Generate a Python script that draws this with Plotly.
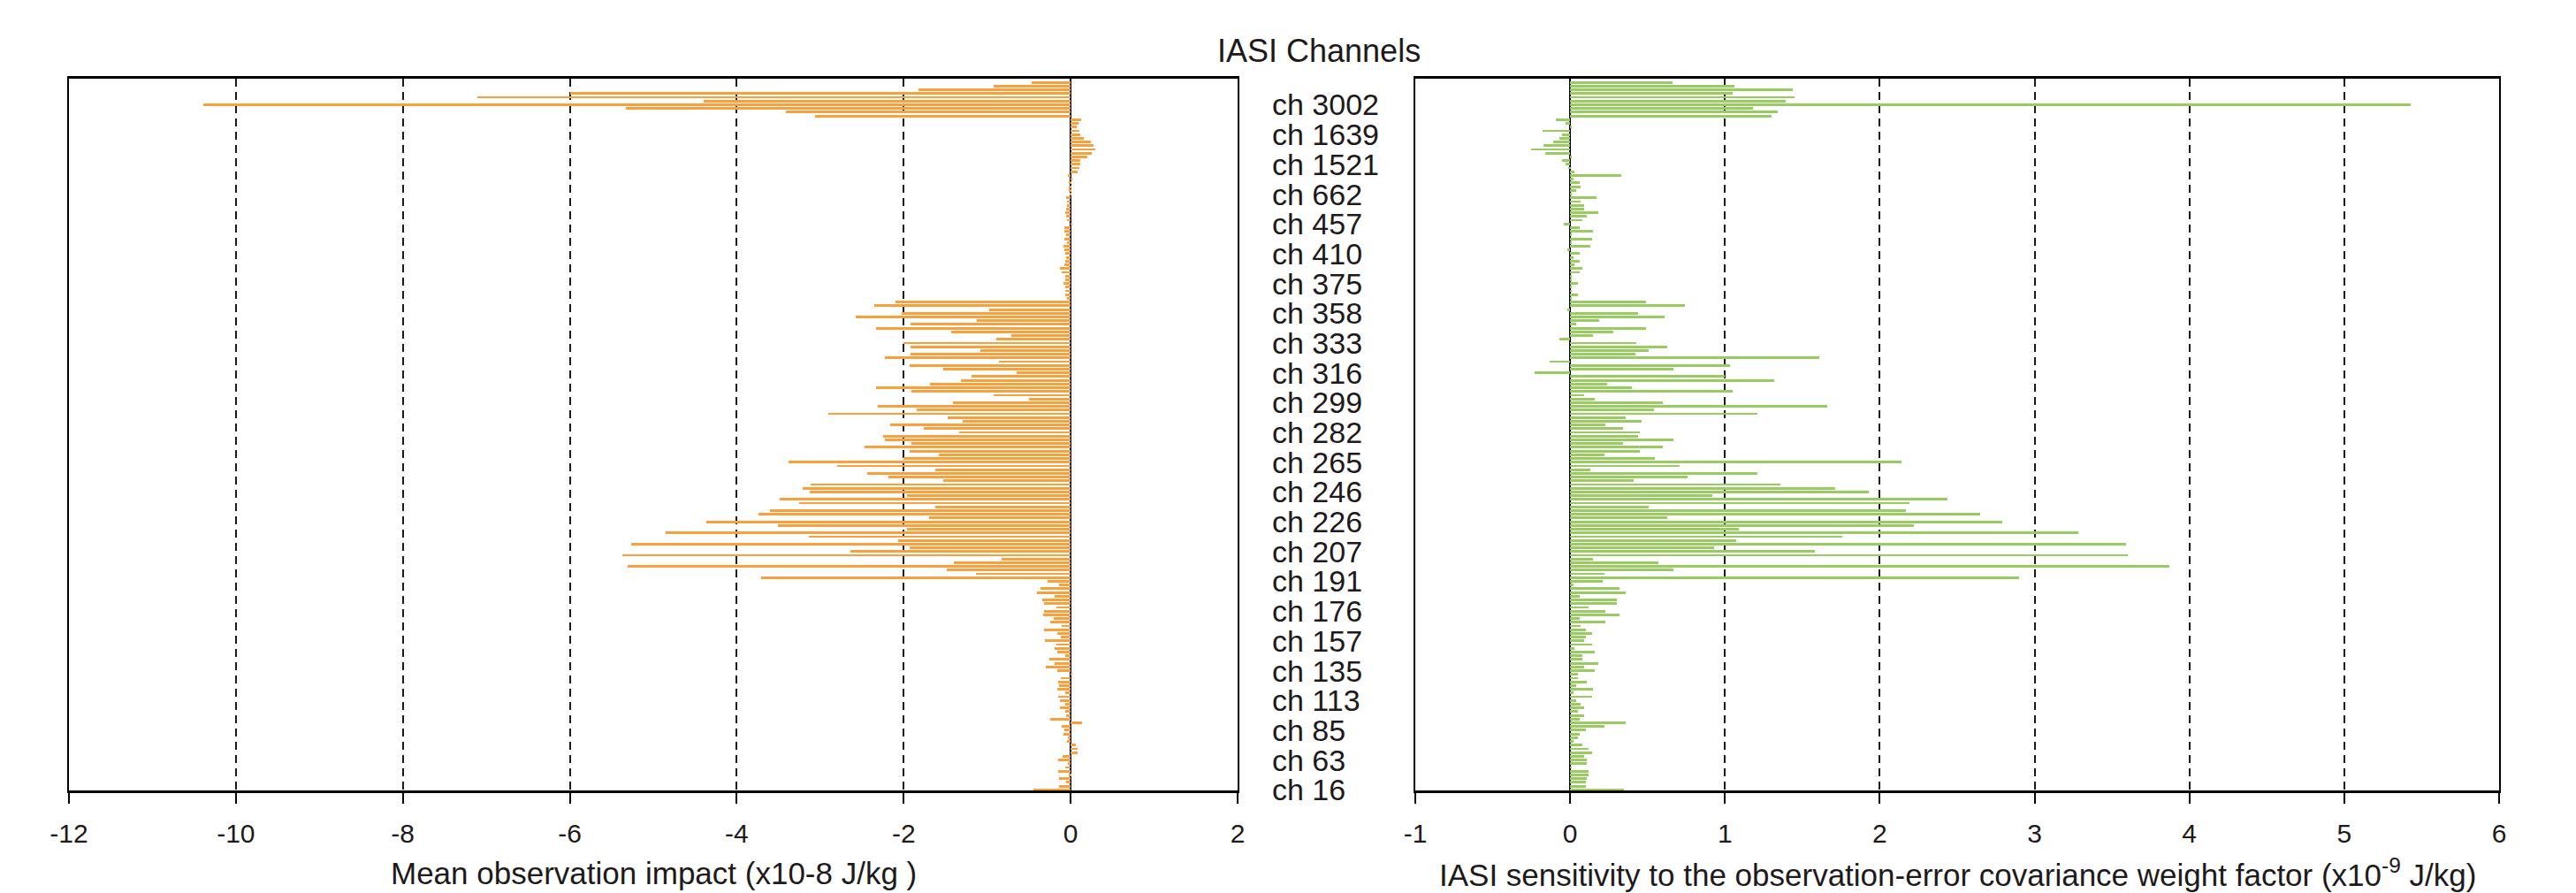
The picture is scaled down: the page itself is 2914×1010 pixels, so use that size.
import plotly.graph_objects as go

# Bar values listed from the top row of the chart (just above ch 3002) down to the bottom row (ch 16)
impact = [
    -0.47, -0.92, -1.82, -6.00, -7.11, -4.40, -10.39, -5.33, -3.41, -3.06,
    0.13, 0.09, 0.07, 0.10, 0.12, 0.16, 0.24, 0.27, 0.30, 0.25,
    0.20, 0.11, 0.11, 0.10, 0.08, -0.03, 0.02, -0.02, -0.02, -0.02,
    -0.01, -0.05, -0.04, -0.04, -0.05, -0.06, -0.05, -0.04, 0.02, -0.08,
    -0.08, -0.05, -0.08, -0.04, -0.09, -0.08, -0.06, -0.05, -0.06, -0.08,
    -0.13, -0.11, -0.06, -0.07, -0.09, -0.06, -0.06, -0.07, -0.04, -2.10,
    -2.35, -0.98, -2.02, -2.57, -1.12, -1.92, -2.33, -1.43, -0.71, -0.89,
    -2.00, -1.92, -1.08, -1.92, -2.23, -0.86, -1.93, -1.53, -0.65, -1.19,
    -1.31, -1.69, -2.33, -1.91, -0.92, -0.50, -1.41, -2.31, -1.84, -2.90,
    -1.47, -1.29, -2.16, -1.76, -1.34, -2.25, -2.23, -1.91, -2.47, -1.93,
    -1.58, -2.00, -3.38, -2.80, -1.62, -2.44, -2.18, -1.53, -3.12, -3.21,
    -3.13, -1.96, -3.49, -3.25, -1.62, -3.60, -3.74, -1.70, -4.36, -3.51,
    -1.96, -4.85, -3.14, -2.07, -5.27, -1.93, -2.64, -5.37, -0.83, -1.40,
    -5.31, -1.48, -1.13, -3.71, -0.28, -0.14, -0.36, -0.40, -0.19, -0.34,
    -0.32, -0.17, -0.32, -0.33, -0.20, -0.24, -0.11, -0.32, -0.16, -0.12,
    -0.31, -0.17, -0.19, -0.16, -0.07, -0.26, -0.19, -0.30, -0.16, 0.02,
    -0.12, -0.15, -0.14, -0.16, -0.07, -0.15, -0.13, -0.06, -0.13, -0.07,
    -0.05, -0.24, 0.14, -0.11, -0.08, -0.09, -0.03, -0.04, 0.06, 0.08,
    0.08, -0.10, -0.15, -0.03, -0.06, -0.15, -0.02, -0.14, -0.05, -0.14,
    -0.45,
]

sensitivity = [
    0.66, 1.06, 1.44, 1.05, 1.45, 1.39, 5.43, 1.18, 1.34, 1.30,
    -0.09, -0.03, 0.01, -0.18, -0.05, -0.07, -0.11, -0.17, -0.25, -0.16,
    0.01, -0.05, -0.03, -0.01, 0.03, 0.33, 0.02, 0.06, 0.07, 0.04,
    0.01, 0.17, 0.07, 0.09, 0.09, 0.18, 0.11, 0.08, -0.04, 0.06,
    0.15, 0.01, 0.14, 0.01, 0.13, -0.02, 0.06, 0.02, 0.06, 0.03,
    0.08, 0.06, 0.01, 0.01, 0.05, 0.01, 0.01, 0.05, 0.01, 0.49,
    0.74, -0.02, 0.44, 0.61, 0.19, 0.04, 0.49, 0.28, 0.15, -0.07,
    0.43, 0.63, 0.51, 0.42, 1.61, -0.13, 1.03, 0.67, -0.23, 1.00,
    1.32, 0.24, 0.40, 1.05, 0.09, 0.16, 0.60, 1.66, 0.54, 1.21,
    0.36, 0.46, 0.23, 0.34, 0.45, 0.44, 0.67, 0.34, 0.60, 0.45,
    0.22, 0.55, 2.14, 0.71, 0.13, 1.21, 0.76, 0.41, 1.36, 1.71,
    1.93, 0.92, 2.44, 2.19, 0.51, 2.17, 2.65, 0.63, 2.79, 2.22,
    1.09, 3.28, 1.76, 1.07, 3.59, 0.93, 1.58, 3.60, 0.15, 0.57,
    3.87, 0.67, 0.22, 2.90, 0.21, 0.02, 0.32, 0.36, 0.06, 0.30,
    0.30, 0.12, 0.23, 0.32, 0.06, 0.23, 0.07, 0.10, 0.14, 0.10,
    0.09, 0.14, 0.03, 0.16, 0.08, 0.08, 0.18, 0.09, 0.16, 0.05,
    0.05, 0.11, 0.04, 0.15, 0.02, 0.14, 0.04, 0.07, 0.09, 0.05,
    0.09, 0.06, 0.36, 0.22, 0.10, 0.06, 0.05, 0.02, 0.08, 0.12,
    0.14, 0.09, 0.11, 0.11, 0.01, 0.12, 0.12, 0.11, 0.10, 0.10,
    0.35,
]

# Channel labels, bottom to top; one label every 8 rows starting at the bottom row
channel_labels = [
    "ch 16", "ch 63", "ch 85", "ch 113", "ch 135", "ch 157", "ch 176", "ch 191",
    "ch 207", "ch 226", "ch 246", "ch 265", "ch 282", "ch 299", "ch 316", "ch 333",
    "ch 358", "ch 375", "ch 410", "ch 457", "ch 662", "ch 1521", "ch 1639", "ch 3002",
]
label_step = 8

left_ticks = [-12, -10, -8, -6, -4, -2, 0, 2]
left_ticktext = ["-12", "-10", "-8", "-6", "-4", "-2", "0", "2"]
right_ticks = [-1, 0, 1, 2, 3, 4, 5, 6]
right_ticktext = ["-1", "0", "1", "2", "3", "4", "5", "6"]

title_text = "IASI Channels"
left_xtitle = "Mean observation impact (x10-8 J/kg )"
right_xtitle = "IASI sensitivity to the observation-error covariance weight factor (x10<sup>-9</sup> J/kg)"

N = len(impact)
rows = [N - 1 - k for k in range(N)]  # top row has the highest position

FONT = "Liberation Sans, Arial, sans-serif"
TXT = "#1e1a1b"
ORANGE = "#F9A03C"
GREEN = "#98CC60"

fig = go.Figure()
fig.add_trace(go.Bar(x=impact, y=rows, orientation="h", width=0.68,
                     marker=dict(color=ORANGE, line=dict(width=0)),
                     xaxis="x", yaxis="y", showlegend=False))
fig.add_trace(go.Bar(x=sensitivity, y=rows, orientation="h", width=0.68,
                     marker=dict(color=GREEN, line=dict(width=0)),
                     xaxis="x2", yaxis="y2", showlegend=False))

W, H = 2914, 1010
ml, mr, mt, mb = 78, 87, 89, 116
pw = W - ml - mr
ph = H - mt - mb
d1 = (1400 - ml) / pw
d2 = (1601 - ml) / pw

xcommon = dict(
    ticks="outside", ticklen=12, tickwidth=2, tickcolor="black",
    showgrid=True, gridcolor="#1a1a1a", gridwidth=1.6, griddash="9px,6px",
    zeroline=True, zerolinecolor="black", zerolinewidth=1.6,
    showline=True, mirror=True, linecolor="black", linewidth=3,
    tickfont=dict(family=FONT, size=30, color=TXT),
    ticklabelstandoff=8,
)
ycommon = dict(
    range=[-0.17, 191.0], showticklabels=False, ticks="", showgrid=False,
    zeroline=False, showline=True, mirror=True, linecolor="black", linewidth=2,
)

annotations = []
for j, lab in enumerate(channel_labels):
    annotations.append(dict(
        text=lab, xref="paper", yref="y", x=(1438 - ml) / pw, y=j * label_step,
        xanchor="left", yanchor="middle", showarrow=False, borderpad=0,
        font=dict(family=FONT, size=34, color=TXT),
    ))
annotations.append(dict(
    text=title_text, xref="paper", yref="paper", x=(1492 - ml) / pw, y=1 + (mt - 57) / ph,
    xanchor="center", yanchor="middle", showarrow=False,
    font=dict(family=FONT, size=36, color=TXT),
))
annotations.append(dict(
    text=left_xtitle, xref="paper", yref="paper", x=d1 / 2, y=-(987 - (H - mb)) / ph,
    xanchor="center", yanchor="middle", showarrow=False,
    font=dict(family=FONT, size=35, color=TXT),
))
annotations.append(dict(
    text=right_xtitle, xref="paper", yref="paper", x=(d2 + 1) / 2, y=-(987 - (H - mb)) / ph,
    xanchor="center", yanchor="middle", showarrow=False,
    font=dict(family=FONT, size=35, color=TXT),
))

fig.update_layout(
    width=W, height=H,
    margin=dict(l=ml, r=mr, t=mt, b=mb),
    paper_bgcolor="white", plot_bgcolor="white",
    bargap=0,
    xaxis=dict(domain=[0, d1], range=[-12, 2], tickvals=left_ticks, ticktext=left_ticktext,
               anchor="y", **xcommon),
    xaxis2=dict(domain=[d2, 1], range=[-1, 6], tickvals=right_ticks, ticktext=right_ticktext,
                anchor="y2", **xcommon),
    yaxis=dict(domain=[0, 1], anchor="x", **ycommon),
    yaxis2=dict(domain=[0, 1], anchor="x2", **ycommon),
    annotations=annotations,
    font=dict(family=FONT, color=TXT),
)

fig.write_html("out.html")
